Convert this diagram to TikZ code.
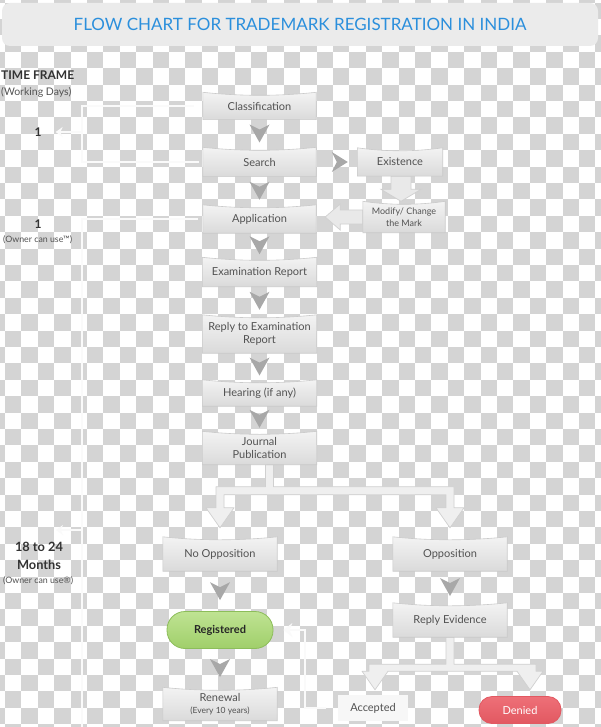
\documentclass[tikz,border=0pt]{standalone}
\usepackage{fontspec}
\setmainfont{Lato}
\usetikzlibrary{calc,arrows.meta}
\pgfdeclarelayer{chk}
\pgfdeclarelayer{shp}
\pgfsetlayers{chk,shp,main}
\definecolor{chkgray}{HTML}{D4D4D4}
\definecolor{txt}{HTML}{525252}
\definecolor{ttlblue}{HTML}{2B8FDC}
\definecolor{barbg}{HTML}{EBEBEB}
\definecolor{boxtop}{HTML}{F3F3F3}
\definecolor{boxbot}{HTML}{DADADA}
\definecolor{boxline}{HTML}{CACACA}
\definecolor{chevc}{HTML}{A8A8A8}
\definecolor{forkfill}{HTML}{EFEFEF}
\definecolor{forkline}{HTML}{D0D0D0}
\definecolor{regtop}{HTML}{BFE393}
\definecolor{regbot}{HTML}{A0CF6A}
\definecolor{regline}{HTML}{8CBD5A}
\definecolor{dentop}{HTML}{EE7078}
\definecolor{denbot}{HTML}{E25861}
\definecolor{brkc}{HTML}{FAFAFA}
\tikzset{
  lbl/.style={text=txt, font=\fontsize{11}{13}\selectfont, align=center, inner sep=0pt},
  side/.style={text=txt, inner sep=0pt, anchor=west, align=left},
  boxsh/.style={top color=boxtop, bottom color=boxbot, draw=boxline, line width=0.6pt},
  chev/.style={fill=chevc},
  fork/.style={fill=forkfill, draw=forkline, line width=0.7pt, line join=round},
  blk/.style={fill=forkfill!95!gray, draw=forkline, line width=0.7pt},
  brk/.style={draw=brkc, line width=2pt},
  pill/.style={lbl, rounded corners=#1, line width=0.8pt}
}
\newcommand\boxbg[1]{%
  \begin{pgfonlayer}{shp}
  \path[boxsh] (#1.south west) -- (#1.north west)
    .. controls ($(#1.north west)!0.33!(#1.north east)+(0,4)$) and ($(#1.north west)!0.67!(#1.north east)+(0,4)$) .. (#1.north east)
    -- (#1.south east) -- cycle;
  \end{pgfonlayer}}
\newcommand\chevD[1]{\fill[chev] #1 +(-10,-9) -- +(0,-4) -- +(10,-9) -- +(0,9) -- cycle;}
\newcommand\chevR[1]{\fill[chev] #1 +(-8,-10) -- +(-3,0) -- +(-8,10) -- +(8,0) -- cycle;}
\begin{document}
\begin{tikzpicture}[x=1pt,y=-1pt]
\useasboundingbox (0,0) rectangle (600,727);
% checkerboard
\begin{pgfonlayer}{chk}
\fill[white] (0,0) rectangle (600,727);
\foreach \j in {-1,...,44}{
  \pgfmathtruncatemacro\st{mod(\j+1,2)}
  \foreach \k in {0,...,18}{
    \fill[chkgray] ({-11.4+16.4*(2*\k+\st)},{2.6+16.4*\j}) rectangle ++(16.4,16.4);
  }
}
\end{pgfonlayer}
% title bar
\node[fill=barbg, rounded corners=8pt, minimum width=596pt, minimum height=43pt, inner sep=0pt,
      text=ttlblue, font=\fontsize{17}{20}\selectfont] (ttl) at (300,24.5)
      {FLOW CHART FOR TRADEMARK REGISTRATION IN INDIA};
% time frame texts
\node[side, font=\bfseries\fontsize{12}{14}\selectfont, text=black!80] (tf) at (1,75) {TIME FRAME};
\node[side, font=\fontsize{10.5}{12}\selectfont] (wd) at (1,92) {(Working Days)};
\node[text=black!80, font=\bfseries\fontsize{12}{14}\selectfont, inner sep=0pt] (one1) at (38,132) {1};
\node[text=black!80, font=\bfseries\fontsize{12}{14}\selectfont, inner sep=0pt] (one2) at (38,224) {1};
\node[side, font=\fontsize{8.8}{10}\selectfont] (own1) at (3,240) {(Owner can use™)};
\node[text=black!80, font=\bfseries\fontsize{12.8}{15}\selectfont, inner sep=0pt] (m1) at (39,547) {18 to 24};
\node[text=black!80, font=\bfseries\fontsize{12.8}{15}\selectfont, inner sep=0pt] (m2) at (39,565) {Months};
\node[side, font=\fontsize{8.8}{10}\selectfont] (own2) at (3,581) {(Owner can use®)};
% main boxes
\node[lbl, minimum width=113pt, minimum height=27pt] (cls) at (259.5,106) {Classification};
\node[lbl, minimum width=113pt, minimum height=29pt] (srch) at (259.5,162) {Search};
\node[lbl, minimum width=113pt, minimum height=28pt] (app) at (259.5,219) {Application};
\node[lbl, minimum width=114pt, minimum height=29pt] (exam) at (259.5,272) {Examination Report};
\node[lbl, minimum width=114pt, minimum height=38pt] (rep) at (259.5,334) {Reply to Examination\\Report};
\node[lbl, minimum width=114pt, minimum height=26pt] (hear) at (259.5,393) {Hearing (if any)};
\node[lbl, minimum width=114pt, minimum height=33pt] (jour) at (259.5,448) {Journal\\Publication};
\node[lbl, minimum width=85pt, minimum height=28pt] (exist) at (400,162) {Existence};
\node[lbl, minimum width=82pt, minimum height=31pt, font=\fontsize{9}{11.5}\selectfont] (modify) at (404,217) {Modify/ Change\\the Mark};
\node[lbl, minimum width=114pt, minimum height=34pt] (noop) at (220,554) {No Opposition};
\node[lbl, minimum width=114pt, minimum height=34pt] (opp) at (450,554) {Opposition};
\node[lbl, minimum width=114pt, minimum height=34pt] (revid) at (450,620) {Reply Evidence};
\node[lbl, minimum width=114pt, minimum height=33pt] (renew) at (220,704) {Renewal\\[-1.5pt]{\fontsize{8.5}{10}\selectfont (Every 10 years)}};
\node[pill=18pt, minimum width=106pt, minimum height=37pt, top color=regtop, bottom color=regbot, draw=regline,
      text=black!85, font=\bfseries\fontsize{11}{13}\selectfont] (reg) at (220,630) {Registered};
\node[lbl, minimum width=70pt, minimum height=26pt, fill=white!94!gray] (acc) at (373,708) {Accepted};
\node[pill=13pt, minimum width=82pt, minimum height=27pt, top color=dentop, bottom color=denbot, draw=denbot,
      text=white, font=\fontsize{11}{13}\selectfont] (den) at (520,710) {Denied};
% fork and block arrows
\begin{pgfonlayer}{shp}
\path[fork] let \p1=(jour.south), \p2=(noop.north), \p3=(opp.north) in
  (\x1+6pt,\y1) -- (\x1+14pt,\y1) -- (\x1+14pt,\y1-22pt) -- (\x3+4pt,\y1-22pt) -- (\x3+4pt,\y2+29pt)
  -- (\x3+14pt,\y2+29pt) -- (\x3,\y2+9pt) -- (\x3-14pt,\y2+29pt) -- (\x3-4pt,\y2+29pt) -- (\x3-4pt,\y1-30pt)
  -- (\x2+4pt,\y1-30pt) -- (\x2+4pt,\y2+29pt) -- (\x2+14pt,\y2+29pt) -- (\x2,\y2+9pt) -- (\x2-14pt,\y2+29pt)
  -- (\x2-4pt,\y2+29pt) -- (\x2-4pt,\y1-22pt) -- (\x1+6pt,\y1-22pt) -- cycle;
\path[fork] let \p1=(revid.south), \p2=(acc.north), \p3=(den.north) in
  (\x1-4pt,\y1) -- (\x1+4pt,\y1) -- (\x1+4pt,\y1-27pt) -- (\x3+16pt,\y1-27pt) -- (\x3+16pt,\y1-34pt)
  -- (\x3+23pt,\y1-34pt) -- (\x3+10pt,\y2+5pt) -- (\x3-3pt,\y1-34pt) -- (\x2+15pt,\y1-34pt)
  -- (\x2+2pt,\y2+5pt) -- (\x2-11pt,\y1-34pt) -- (\x2-4pt,\y1-34pt) -- (\x2-4pt,\y1-27pt)
  -- (\x1-4pt,\y1-27pt) -- cycle;
\path[blk] let \p1=(exist.south), \p2=(modify.north) in
  (\x1-9pt,\y1) -- (\x1+11pt,\y1) -- (\x1+11pt,\y2+12pt) -- (\x1+21pt,\y2+12pt) -- (\x1+1pt,\y2)
  -- (\x1-19pt,\y2+12pt) -- (\x1-9pt,\y2+12pt) -- cycle;
\path[blk] let \p1=(modify.west), \p2=(app.east) in
  (\x1,\y1+7pt) -- (\x2+24pt,\y1+7pt) -- (\x2+24pt,\y1+13pt) -- (\x2+9pt,\y1) -- (\x2+24pt,\y1-13pt)
  -- (\x2+24pt,\y1-7pt) -- (\x1,\y1-7pt) -- cycle;
\end{pgfonlayer}
% box backgrounds
\boxbg{cls}\boxbg{srch}\boxbg{app}\boxbg{exam}\boxbg{rep}\boxbg{hear}\boxbg{jour}
\boxbg{exist}\boxbg{modify}\boxbg{noop}\boxbg{opp}\boxbg{revid}\boxbg{renew}
% chevrons
\chevD{($(cls.south)!.5!(srch.north)$)}
\chevD{($(srch.south)!.5!(app.north)$)}
\chevD{($(app.south)!.5!(exam.north)$)}
\chevD{($(exam.south)!.5!(rep.north)$)}
\chevD{($(rep.south)!.5!(hear.north)$)}
\chevD{($(hear.south)!.5!(jour.north)$)}
\chevD{($(noop.south)!.5!(reg.north)$)}
\chevD{($(opp.south)!.5!(revid.north)$)}
\chevD{($(reg.south)!.5!(renew.north)$)}
\chevR{($(srch.east)!.5!(exist.west)+(3,0)$)}
% bracket lines
\coordinate (bx) at (82,0);
\coordinate (bbot) at (82,727);
\coordinate (ar3) at (56,530);
\coordinate (rx) at (305,0);
\begin{pgfonlayer}{shp}
\draw[brk] ([xshift=-9pt]cls.west) -- (bx |- cls.west) -- (bx |- srch.west) -- ([xshift=-4pt]srch.west);
\draw[brk, -{Stealth[length=7pt,width=10pt]}] (bx |- one1) -- ([xshift=14pt]one1.east);
\draw[brk] ([xshift=-5pt]app.west) -- (bx |- app.west) -- (bbot);
\draw[brk, -{Stealth[length=7pt,width=10pt]}] (bx |- ar3) -- (ar3);
\draw[brk, -{Stealth[length=9pt,width=14pt]}] ([xshift=-12pt]acc.west) -- (rx |- acc.west) -- (rx |- reg.east) -- ([xshift=10pt]reg.east);
\end{pgfonlayer}
\end{tikzpicture}
\end{document}
